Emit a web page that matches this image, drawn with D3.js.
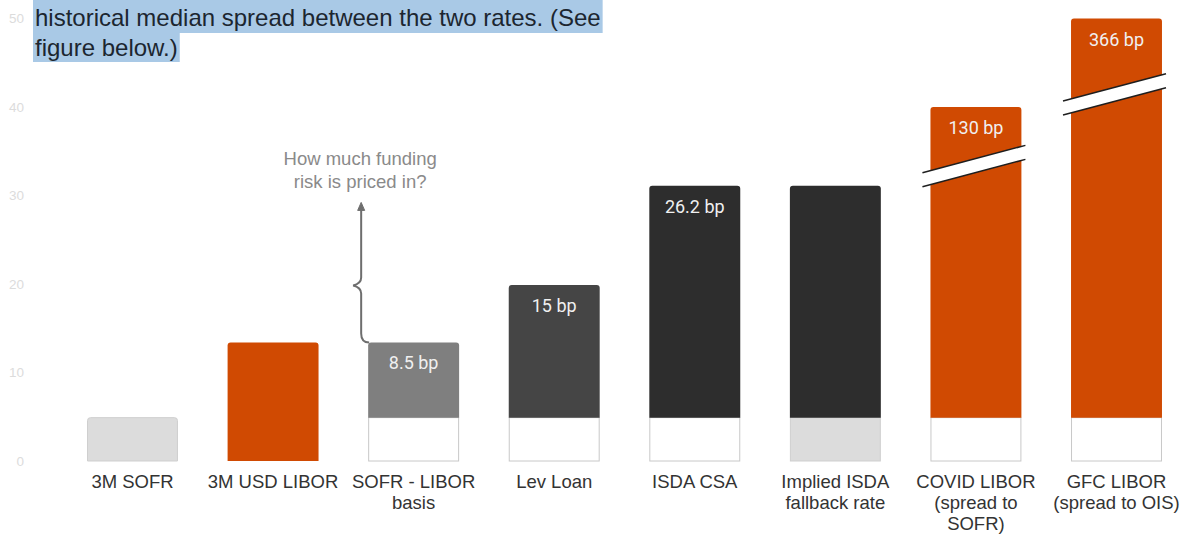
<!DOCTYPE html>
<html>
<head>
<meta charset="utf-8">
<script src="https://cdn.jsdelivr.net/npm/d3@7"></script>
<style>
  html, body { margin: 0; padding: 0; background: #fff; }
  svg { display: block; }
</style>
</head>
<body>
<svg id="chart" width="1184" height="535"></svg>
<script>
// Categories (each label split into its printed lines)
const categories = ["3M SOFR", "3M USD LIBOR", "SOFR - LIBOR basis", "Lev Loan",
  "ISDA CSA", "Implied ISDA fallback rate", "COVID LIBOR (spread to SOFR)", "GFC LIBOR (spread to OIS)"];
const categoryLines = [["3M SOFR"], ["3M USD LIBOR"], ["SOFR - LIBOR", "basis"], ["Lev Loan"],
  ["ISDA CSA"], ["Implied ISDA", "fallback rate"], ["COVID LIBOR", "(spread to", "SOFR)"], ["GFC LIBOR", "(spread to OIS)"]];

// Base level under each bar and the spread stacked on top of it
const baseValues   = [4.9, 0, 4.9, 4.9, 4.9, 4.9, 4.9, 4.9];
const baseKind     = ["sofr", "none", "blank", "blank", "blank", "sofr", "blank", "blank"];
const spreadValues = [0, 13.4, 8.5, 15, 26.2, 26.2, 130, 366];
const spreadLabels = [null, null, "8.5 bp", "15 bp", "26.2 bp", null, "130 bp", "366 bp"];
const spreadKind   = ["none", "libor", "basis", "lev", "csa", "csa", "libor", "libor"];
// Off-scale bars are cut at this axis level and shown with a break
const axisCap      = [null, null, null, null, null, null, 40, 50];

// Axis ticks
const yTicks = [0, 10, 20, 30, 40, 50];

// Annotation text
const noteLines = ["How much funding", "risk is priced in?"];
// Document text sitting above the figure
const introLines = ["historical median spread between the two rates. (See", "figure below.)"];

const fills = {
  sofr: "#dcdcdc", blank: "#ffffff", libor: "#d04a02",
  basis: "#7f7f7f", lev: "#454545", csa: "#2d2d2d"
};

const svg = d3.select("#chart");
const W = 1184, H = 535;
svg.append("rect").attr("width", W).attr("height", H).attr("fill", "#fff");

const x = d3.scaleBand().domain(categories).range([62, 1187])
  .paddingInner(0.353).paddingOuter(0.178);
const y = d3.scaleLinear().domain([0, 50]).range([461, 18.5]);
const bw = x.bandwidth();

// Y axis: faint labels only
const yAxis = d3.axisLeft(y).tickValues(yTicks).tickSize(0).tickPadding(0);
const gy = svg.append("g").attr("transform", "translate(24,0)").call(yAxis);
gy.select(".domain").remove();
gy.selectAll("text").attr("fill", "#dcdcdc")
  .style("font-family", "Liberation Sans, Arial, sans-serif").style("font-size", "13.5px");

// Rounded-top rectangle path
function topRounded(x0, y0, w, h, r) {
  r = Math.min(r, h);
  return `M${x0},${y0 + h} V${y0 + r} Q${x0},${y0} ${x0 + r},${y0} H${x0 + w - r} Q${x0 + w},${y0} ${x0 + w},${y0 + r} V${y0 + h} Z`;
}

const rows = categories.map((c, i) => ({
  c, i, base: baseValues[i], baseKind: baseKind[i], spread: spreadValues[i],
  label: spreadLabels[i], kind: spreadKind[i], cap: axisCap[i]
}));

const bars = svg.append("g");

rows.forEach(d => {
  const x0 = x(d.c);
  const hasSpread = d.spread > 0;
  // base block
  if (d.baseKind !== "none" && d.base > 0) {
    const yt = y(d.base), yb = y(0);
    const stroke = d.baseKind === "blank" ? "#c8c8c8" : "#cfcfcf";
    if (hasSpread) {
      bars.append("rect").attr("x", x0 + 0.5).attr("y", yt).attr("width", bw - 1).attr("height", yb - yt)
        .attr("fill", fills[d.baseKind]).attr("stroke", stroke).attr("stroke-width", 1);
    } else {
      bars.append("path").attr("d", topRounded(x0 + 0.5, yt, bw - 1, yb - yt, 3))
        .attr("fill", fills[d.baseKind]).attr("stroke", stroke).attr("stroke-width", 1);
    }
  }
  if (!hasSpread) return;
  const top = d.cap != null ? d.cap : d.base + d.spread;
  const yt = y(top), yb = y(d.base);
  bars.append("path").attr("d", topRounded(x0, yt, bw, yb - yt, 3)).attr("fill", fills[d.kind]);
  if (d.label) {
    bars.append("text").attr("x", x0 + bw / 2).attr("y", yt + 27).attr("text-anchor", "middle")
      .attr("fill", "#f0f0f0").style("font-family", "Roboto, sans-serif").style("font-size", "18px")
      .text(d.label);
  }
  // axis break on off-scale bars
  if (d.cap != null) {
    const cy = yt + (yb - yt) * 0.19;
    const cx = x0 + bw / 2 - 2;
    const xl = x0 - 8, xr = x0 + bw + 4;
    const slope = -0.265, half = 7;
    const yAt = (xx, off) => cy + off + slope * (xx - cx);
    const g = bars.append("g");
    g.append("path")
      .attr("d", `M${xl},${yAt(xl, -half)} L${xr},${yAt(xr, -half)} L${xr},${yAt(xr, half)} L${xl},${yAt(xl, half)} Z`)
      .attr("fill", "#fff");
    [-half, half].forEach(off => {
      g.append("line").attr("x1", xl).attr("y1", yAt(xl, off)).attr("x2", xr).attr("y2", yAt(xr, off))
        .attr("stroke", "#1e1e1e").attr("stroke-width", 1.5);
    });
  }
});

// Category labels
const xl = svg.append("g");
rows.forEach(d => {
  const t = xl.append("text").attr("text-anchor", "middle").attr("fill", "#333")
    .style("font-family", "Liberation Sans, Arial, sans-serif").style("font-size", "18.5px");
  categoryLines[d.i].forEach((line, k) => {
    t.append("tspan").attr("x", x(d.c) + bw / 2).attr("y", 488 + k * 21).text(line);
  });
});

// Annotation: brace with arrow pointing to the question
const basisTop = y(baseValues[2] + spreadValues[2]);
const bx = x(categories[2]);
const ax = bx - 7;
const ann = svg.append("g").attr("fill", "none").attr("stroke", "#6e6e6e").attr("stroke-width", 2);
ann.append("path").attr("d",
  `M${bx + 1},${basisTop} Q${ax},${basisTop} ${ax},${basisTop - 9} V${basisTop - 49} ` +
  `Q${ax},${basisTop - 55} ${ax - 8},${basisTop - 57} Q${ax},${basisTop - 59} ${ax},${basisTop - 65} V${basisTop - 134}`);
ann.append("path").attr("d", `M${ax - 3.5},${basisTop - 132} L${ax},${basisTop - 140} L${ax + 3.5},${basisTop - 132} Z`)
  .attr("fill", "#6e6e6e").attr("stroke-width", 1);
const note = svg.append("text").attr("text-anchor", "middle").attr("fill", "#8a8a8a")
  .style("font-family", "Liberation Sans, Arial, sans-serif").style("font-size", "18.5px");
noteLines.forEach((line, k) => {
  note.append("tspan").attr("x", ax - 1).attr("y", 165 + k * 23).text(line);
});

// Highlighted document text overlapping the top of the figure
const intro = svg.append("g");
const introText = intro.append("text")
  .style("font-family", "Liberation Sans, Arial, sans-serif").style("font-size", "24px").attr("fill", "#1c2630");
introLines.forEach((line, k) => {
  introText.append("tspan").attr("x", 35).attr("y", 26 + k * 30).text(line);
});
introText.selectAll("tspan").each(function(_, k) {
  const bb = this.getBBox();
  intro.insert("rect", "text").attr("x", bb.x - 2).attr("y", k === 0 ? 0 : 33)
    .attr("width", bb.width + 4).attr("height", k === 0 ? 33 : 29).attr("fill", "#a9c9e6");
});
</script>
</body>
</html>
